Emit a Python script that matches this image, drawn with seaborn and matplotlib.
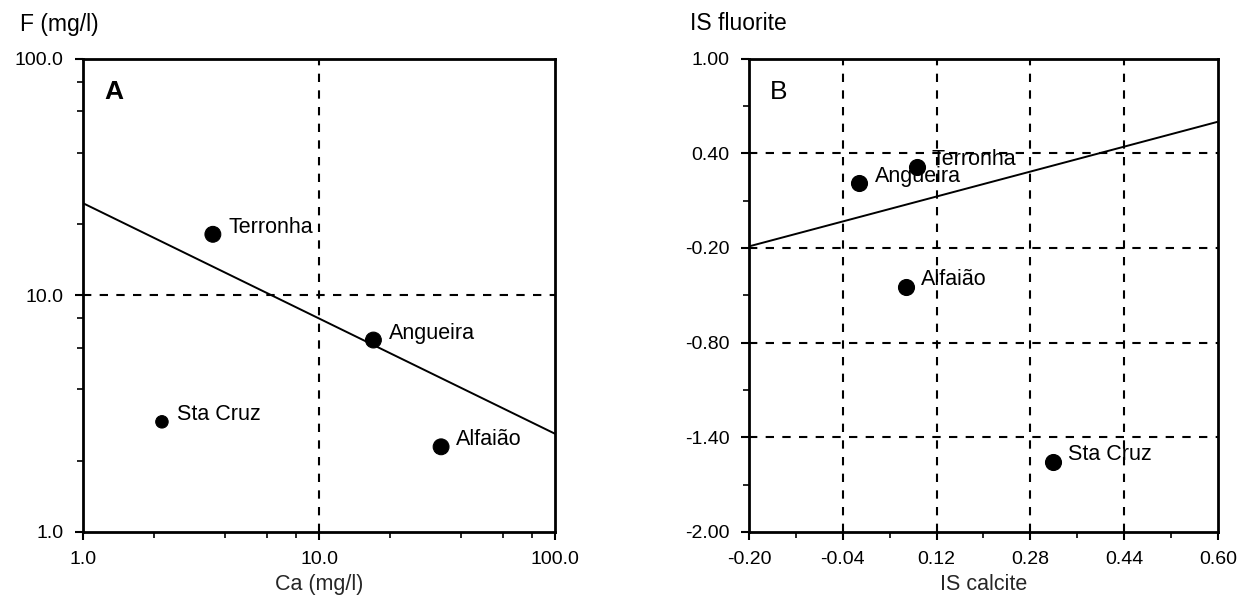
import matplotlib
matplotlib.use("Agg")
import matplotlib.pyplot as plt
from matplotlib.ticker import FixedLocator, NullFormatter, FixedFormatter
import seaborn as sns
import pandas as pd

# Sampling sites
sites = ["Terronha", "Angueira", "Sta Cruz", "Alfaião"]

# Panel A: calcium vs fluoride concentrations (mg/l)
ca_mgl = [3.55, 17.0, 2.16, 32.9]
f_mgl = [18.1, 6.47, 2.92, 2.29]
fit_a_x = [1.0, 100.0]
fit_a_y = [24.5, 2.60]

# Panel B: saturation indices
is_calcite = [0.086, -0.012, 0.318, 0.068]
is_fluorite = [0.315, 0.210, -1.554, -0.445]
fit_b_x = [-0.20, 0.60]
fit_b_y = [-0.19, 0.60]

# Marker sizes (Sta Cruz drawn smaller in panel A)
marker_size = [130, 130, 80, 130]

sns.set_theme(style="white")
plt.rcParams["font.family"] = ["Liberation Sans", "DejaVu Sans"]
plt.rcParams["axes.edgecolor"] = "black"
plt.rcParams["axes.linewidth"] = 2.0
plt.rcParams["xtick.color"] = "black"
plt.rcParams["ytick.color"] = "black"
plt.rcParams["text.color"] = "black"

df_a = pd.DataFrame({"site": sites, "Ca": ca_mgl, "F": f_mgl, "s": marker_size})
df_b = pd.DataFrame({"site": sites, "cal": is_calcite, "flu": is_fluorite})

fig = plt.figure(figsize=(12.37, 5.98), dpi=100)
ax_a = fig.add_axes([0.0671, 0.1104, 0.3816, 0.7916])
ax_b = fig.add_axes([0.6055, 0.1104, 0.3791, 0.7916])

grid_kw = dict(color="black", linestyle=(0, (4, 4)), linewidth=1.5, zorder=1)
label_fs = 15.5

# ---- Panel A ----
ax_a.set_xscale("log")
ax_a.set_yscale("log")
ax_a.set_xlim(1, 100)
ax_a.set_ylim(1, 100)
ax_a.axvline(10, **grid_kw)
ax_a.axhline(10, **grid_kw)
sns.lineplot(x=fit_a_x, y=fit_a_y, ax=ax_a, color="black", linewidth=1.4, zorder=2)
sns.scatterplot(data=df_a, x="Ca", y="F", size="s", sizes=(80, 130), ax=ax_a,
                color="black", edgecolor="black", legend=False, zorder=3)
for name, x, y in zip(sites, ca_mgl, f_mgl):
    ax_a.annotate(name, (x, y), xytext=(11, 5), textcoords="offset points",
                  fontsize=label_fs, va="center", ha="left")
ax_a.text(0.045, 0.93, "A", transform=ax_a.transAxes, fontsize=19,
          fontweight="bold", va="center", ha="left")

major = [1, 10, 100]
minor = [m * d for d in (1, 10) for m in (2, 4, 6, 8)]
for axis in (ax_a.xaxis, ax_a.yaxis):
    axis.set_major_locator(FixedLocator(major))
    axis.set_major_formatter(FixedFormatter(["1.0", "10.0", "100.0"]))
    axis.set_minor_locator(FixedLocator(minor))
    axis.set_minor_formatter(NullFormatter())
ax_a.set_xlabel("Ca (mg/l)", fontsize=15.5, labelpad=4)
ax_a.set_ylabel("")
fig.text(20 / 1237, 1 - 24 / 598, "F (mg/l)", fontsize=16.5, ha="left", va="center")

# ---- Panel B ----
ax_b.set_xlim(-0.20, 0.60)
ax_b.set_ylim(-2.00, 1.00)
xt = [-0.20, -0.04, 0.12, 0.28, 0.44, 0.60]
yt = [-2.00, -1.40, -0.80, -0.20, 0.40, 1.00]
for v in xt[1:-1]:
    ax_b.axvline(v, **grid_kw)
for v in yt[1:-1]:
    ax_b.axhline(v, **grid_kw)
sns.lineplot(x=fit_b_x, y=fit_b_y, ax=ax_b, color="black", linewidth=1.4, zorder=2)
sns.scatterplot(data=df_b, x="cal", y="flu", s=130, ax=ax_b,
                color="black", edgecolor="black", legend=False, zorder=3)
for name, x, y in zip(sites, is_calcite, is_fluorite):
    ax_b.annotate(name, (x, y), xytext=(11, 5), textcoords="offset points",
                  fontsize=label_fs, va="center", ha="left")
ax_b.text(0.045, 0.93, "B", transform=ax_b.transAxes, fontsize=19,
          va="center", ha="left")
ax_b.xaxis.set_major_locator(FixedLocator(xt))
ax_b.xaxis.set_major_formatter(FixedFormatter([f"{v:.2f}" for v in xt]))
ax_b.yaxis.set_major_locator(FixedLocator(yt))
ax_b.yaxis.set_major_formatter(FixedFormatter([f"{v:.2f}" for v in yt]))
ax_b.xaxis.set_minor_locator(FixedLocator([-0.12, 0.04, 0.20, 0.36, 0.52]))
ax_b.yaxis.set_minor_locator(FixedLocator([-1.70, -1.10, -0.50, 0.10, 0.70]))
ax_b.set_xlabel("IS calcite", fontsize=15.5, labelpad=4)
ax_b.set_ylabel("")
fig.text(690 / 1237, 1 - 24 / 598, "IS fluorite", fontsize=16.5, ha="left", va="center")

for ax in (ax_a, ax_b):
    for sp in ax.spines.values():
        sp.set_visible(True)
        sp.set_color("black")
        sp.set_linewidth(2.0)
    ax.tick_params(which="major", direction="out", length=6, width=1.5,
                   labelsize=14, bottom=True, left=True, top=False, right=False, pad=8)
    ax.tick_params(which="minor", direction="out", length=4, width=1.2,
                   bottom=True, left=True, top=False, right=False)

fig.savefig("out.png", dpi=100, facecolor="white")
